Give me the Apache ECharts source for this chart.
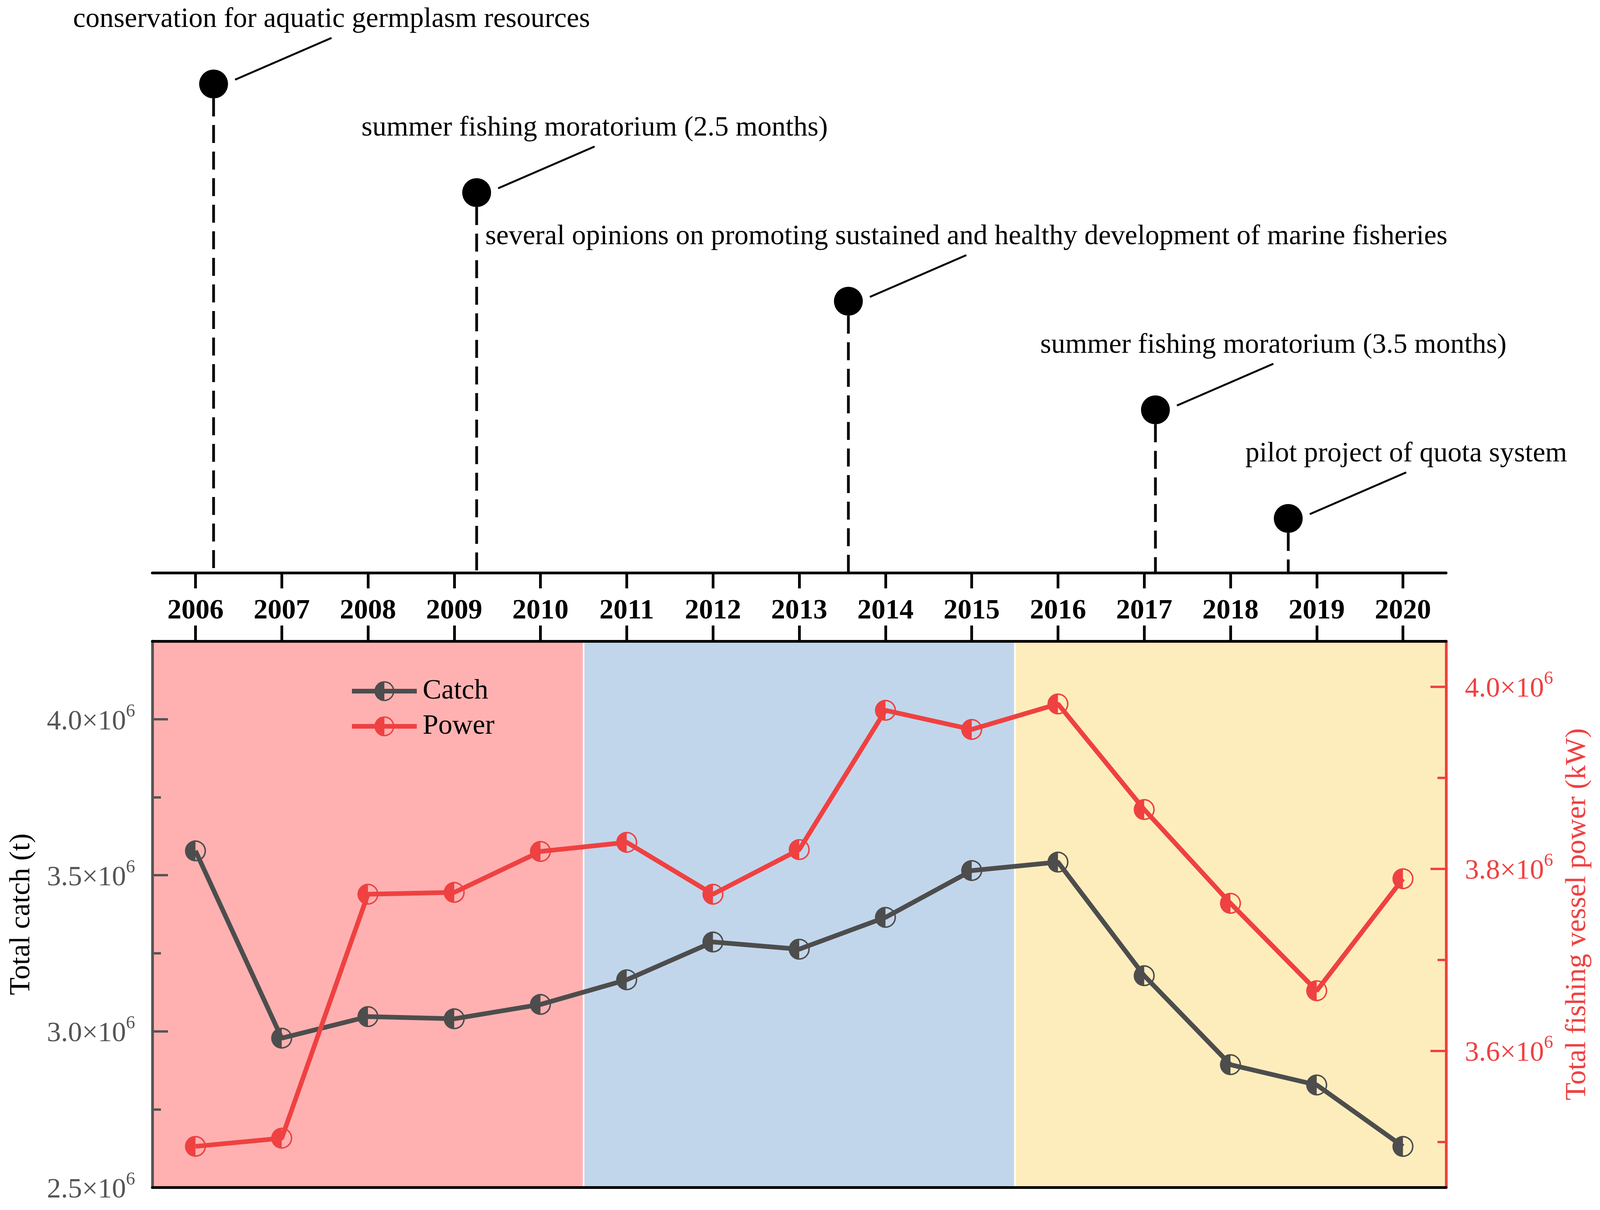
<!DOCTYPE html>
<html>
<head>
<meta charset="utf-8">
<script src="https://cdn.jsdelivr.net/npm/echarts@6/dist/echarts.min.js"></script>
<style>
html,body{margin:0;padding:0;background:#fff;}
#chart{width:4104px;height:3097px;}
</style>
</head>
<body>
<div id="chart"></div>
<script>
const years = ['2006','2007','2008','2009','2010','2011','2012','2013','2014','2015','2016','2017','2018','2019','2020'];
const catchValues = [3.578e6, 2.978e6, 3.047e6, 3.040e6, 3.086e6, 3.165e6, 3.286e6, 3.263e6, 3.365e6, 3.515e6, 3.542e6, 3.178e6, 2.893e6, 2.828e6, 2.631e6];
const powerValues = [3.495e6, 3.504e6, 3.772e6, 3.774e6, 3.819e6, 3.829e6, 3.772e6, 3.821e6, 3.974e6, 3.953e6, 3.981e6, 3.865e6, 3.762e6, 3.666e6, 3.789e6];

const bandStarts = [2006, 2011, 2016];
const bandEnds = [2010, 2015, 2020];
const bandColors = ['#FFB1B1', '#C2D6EB', '#FEEDBC'];

const eventYears = [2006.21, 2009.26, 2013.57, 2017.13, 2018.67];
const eventLevels = [4.5, 3.5, 2.5, 1.5, 0.5];
const eventLabels = [
  'conservation for aquatic germplasm resources',
  'summer fishing moratorium (2.5 months)',
  'several opinions on promoting sustained and healthy development of marine fisheries',
  'summer fishing moratorium (3.5 months)',
  'pilot project of quota system'
];

const leftLabelTicks = [2.5e6, 3.0e6, 3.5e6, 4.0e6];
const leftMajorTicks = [3.0e6, 3.5e6, 4.0e6];
const leftMinorTicks = [2.75e6, 3.25e6, 3.75e6];
const rightLabelTicks = [3.6e6, 3.8e6, 4.0e6];
const rightMinorTicks = [3.5e6, 3.7e6, 3.9e6];

const FONT = "'Liberation Serif', 'Times New Roman', serif";
const GRAY = '#4D4D4D';
const AXGRAY = '#555555';
const RED = '#EF4141';
const HALF = 'path://M0 -10 A10 10 0 1 1 0 10 A10 10 0 1 1 0 -10 Z M0 -8.6 A8.6 8.6 0 1 0 0 8.6 A8.6 8.6 0 1 0 0 -8.6 Z M0 -8.6 A8.6 8.6 0 0 0 0 8.6 Z';

function sciLabel(v) {
  return '{m|' + (v / 1e6).toFixed(1) + '×10}{s|6}';
}
function richFor(color) {
  return {
    m: {fontSize: 72, fontFamily: FONT, color: color, lineHeight: 86, verticalAlign: 'bottom'},
    s: {fontSize: 47, fontFamily: FONT, color: color, lineHeight: 47, verticalAlign: 'top'}
  };
}

const chart = echarts.init(document.getElementById('chart'), null, {renderer: 'canvas'});

const option = {
  backgroundColor: '#ffffff',
  animation: false,
  grid: [
    {left: 390, right: 402, top: 76, bottom: 1631, outerBoundsMode: 'none', containLabel: false},
    {left: 390, right: 402, top: 1641, bottom: 58, outerBoundsMode: 'none', containLabel: false}
  ],
  legend: {
    data: ['Catch', 'Power'],
    orient: 'vertical',
    left: 890,
    top: 1728,
    itemWidth: 166,
    itemHeight: 64,
    itemGap: 18,
    lineStyle: {width: 12},
    textStyle: {fontSize: 72, fontFamily: FONT, color: '#000', padding: [0, 0, 0, 10]}
  },
  xAxis: [
    {
      gridIndex: 0, type: 'category', data: years, position: 'bottom', boundaryGap: true, z: 5,
      axisLine: {show: true, lineStyle: {color: '#000', width: 7}},
      axisTick: {show: true, alignWithLabel: true, inside: false, length: 40, lineStyle: {color: '#000', width: 7}},
      axisLabel: {show: true, margin: 62, fontSize: 72, fontWeight: 'bold', fontFamily: FONT, color: '#000'},
      splitLine: {show: false}
    },
    {
      gridIndex: 0, type: 'value', min: 2005.5, max: 2020.5, show: false
    },
    {
      gridIndex: 1, type: 'category', data: years, position: 'top', boundaryGap: true, z: 5,
      axisLine: {show: true, lineStyle: {color: '#000', width: 7}},
      axisTick: {show: true, alignWithLabel: true, inside: false, length: 40, lineStyle: {color: '#000', width: 7}},
      axisLabel: {show: false},
      splitLine: {show: false}
    },
    {
      gridIndex: 1, type: 'value', min: 2005.5, max: 2020.5, position: 'bottom', z: 5,
      axisLine: {show: true, lineStyle: {color: '#000', width: 7}},
      axisTick: {show: false}, axisLabel: {show: false}, splitLine: {show: false}
    }
  ],
  yAxis: [
    {gridIndex: 0, type: 'value', min: 0, max: 5, show: false},
    {
      gridIndex: 1, type: 'value', min: 2.5e6, max: 4.25e6, position: 'left', z: 5,
      name: 'Total catch (t)', nameLocation: 'middle', nameGap: 297, nameRotate: 90,
      nameTextStyle: {fontSize: 74, fontFamily: FONT, color: '#000'},
      axisLine: {show: true, lineStyle: {color: AXGRAY, width: 7}},
      axisTick: {show: true, inside: true, length: 40, customValues: leftMajorTicks, lineStyle: {color: AXGRAY, width: 6}},
      axisLabel: {show: true, margin: 44, customValues: leftLabelTicks, fontSize: 72, fontFamily: FONT, color: AXGRAY,
        formatter: sciLabel, rich: richFor(AXGRAY)},
      splitLine: {show: false}
    },
    {
      gridIndex: 1, type: 'value', min: 2.5e6, max: 4.25e6, position: 'left', z: 5,
      axisLine: {show: false},
      axisTick: {show: true, inside: true, length: 22, customValues: leftMinorTicks, lineStyle: {color: AXGRAY, width: 6}},
      axisLabel: {show: false}, splitLine: {show: false}
    },
    {
      gridIndex: 1, type: 'value', min: 3.45e6, max: 4.05e6, position: 'right', z: 5,
      name: 'Total fishing vessel power (kW)', nameLocation: 'middle', nameGap: 300, nameRotate: 90,
      nameTextStyle: {fontSize: 74, fontFamily: FONT, color: RED},
      axisLine: {show: true, lineStyle: {color: RED, width: 7}},
      axisTick: {show: true, inside: true, length: 40, customValues: rightLabelTicks, lineStyle: {color: RED, width: 6}},
      axisLabel: {show: true, margin: 48, customValues: rightLabelTicks, fontSize: 72, fontFamily: FONT, color: RED,
        formatter: sciLabel, rich: richFor(RED)},
      splitLine: {show: false}
    },
    {
      gridIndex: 1, type: 'value', min: 3.45e6, max: 4.05e6, position: 'right', z: 5,
      axisLine: {show: false},
      axisTick: {show: true, inside: true, length: 22, customValues: rightMinorTicks, lineStyle: {color: RED, width: 6}},
      axisLabel: {show: false}, splitLine: {show: false}
    }
  ],
  series: [
    {
      name: 'bands', type: 'line', xAxisIndex: 3, yAxisIndex: 1, data: [], z: 1, silent: true,
      markArea: {
        silent: true,
        data: bandStarts.map((s, i) => [
          {xAxis: s - 0.5, itemStyle: {color: bandColors[i], borderColor: '#ffffff', borderWidth: 4, opacity: 1}},
          {xAxis: bandEnds[i] + 0.5}
        ])
      }
    },
    {
      name: 'Catch', type: 'line', xAxisIndex: 2, yAxisIndex: 1, data: catchValues, z: 3,
      symbol: HALF, symbolSize: 54, showSymbol: true,
      lineStyle: {color: GRAY, width: 12},
      itemStyle: {color: GRAY, borderWidth: 0}
    },
    {
      name: 'Power', type: 'line', xAxisIndex: 2, yAxisIndex: 3, data: powerValues, z: 3,
      symbol: HALF, symbolSize: 54, showSymbol: true,
      lineStyle: {color: RED, width: 12},
      itemStyle: {color: RED, borderWidth: 0}
    },
    {
      name: 'events', type: 'custom', xAxisIndex: 1, yAxisIndex: 0, z: 3,
      data: eventYears.map((x, i) => [x, eventLevels[i]]),
      renderItem: function (params, api) {
        const p = api.coord([api.value(0), api.value(1)]);
        const b = api.coord([api.value(0), 0]);
        return {
          type: 'group',
          children: [
            {type: 'line', shape: {x1: p[0], y1: p[1] + 37, x2: p[0], y2: b[1]},
              style: {stroke: '#000', lineWidth: 7, lineDash: [46, 22]}},
            {type: 'line', shape: {x1: p[0] + 55, y1: p[1] - 11, x2: p[0] + 302, y2: p[1] - 118},
              style: {stroke: '#000', lineWidth: 5}},
            {type: 'circle', shape: {cx: p[0], cy: p[1], r: 37}, style: {fill: '#000'}},
            {type: 'text', x: p[0] + 302, y: p[1] - 165,
              style: {text: eventLabels[params.dataIndex], fill: '#000',
                font: "72px 'Liberation Serif', 'Times New Roman', serif",
                align: 'center', verticalAlign: 'middle'}}
          ]
        };
      }
    }
  ]
};
chart.setOption(option);
</script>
</body>
</html>
